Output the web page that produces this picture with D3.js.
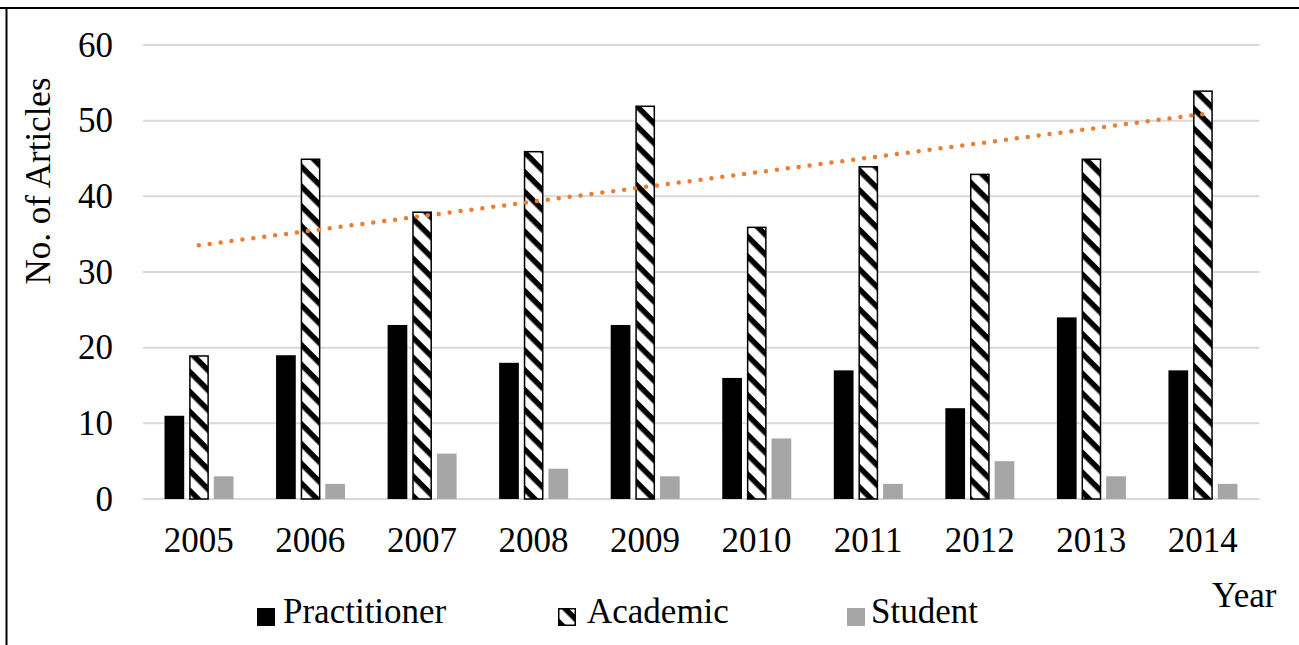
<!DOCTYPE html>
<html>
<head>
<meta charset="utf-8">
<script src="https://cdn.jsdelivr.net/npm/d3@7"></script>
<style>
  html, body { margin: 0; padding: 0; background: #fff; }
  svg { display: block; }
  text { font-family: "Liberation Serif", "Times New Roman", serif; fill: #000; }
</style>
</head>
<body>
<svg id="chart" width="1299" height="645"></svg>
<script>
const years = ["2005","2006","2007","2008","2009","2010","2011","2012","2013","2014"];
const seriesNames = ["Practitioner","Academic","Student"];
const practitioner = [11,19,23,18,23,16,17,12,24,17];
const academic = [19,45,38,46,52,36,44,43,45,54];
const student = [3,2,6,4,3,8,2,5,3,2];
const yTicks = [0,10,20,30,40,50,60];
const yTitle = "No. of Articles";
const xTitle = "Year";

const seriesValues = [practitioner, academic, student];
const svg = d3.select("#chart");
const W = 1299, H = 645;

// frame lines
svg.append("line").attr("x1",0).attr("x2",W).attr("y1",8).attr("y2",8)
  .attr("stroke","#000").attr("stroke-width",2);
svg.append("line").attr("x1",6.5).attr("x2",6.5).attr("y1",8).attr("y2",H)
  .attr("stroke","#000").attr("stroke-width",2);

// pattern
const defs = svg.append("defs");
const pat = defs.append("pattern").attr("id","diag")
  .attr("patternUnits","userSpaceOnUse").attr("width",14).attr("height",14)
  .attr("patternTransform","rotate(45)");
pat.append("rect").attr("width",14).attr("height",14).attr("fill","#fff");
pat.append("rect").attr("width",14).attr("height",5.5).attr("fill","#000");

const x0 = d3.scaleBand().domain(years).range([143, 1258.5]).padding(0);
const x1 = d3.scaleBand().domain(seriesNames).range([21.5, 90.5]).paddingInner(0.2);
const y = d3.scaleLinear().domain([0,60]).range([499,45]);

// gridlines
svg.append("g").selectAll("line").data(yTicks).join("line")
  .attr("x1",143).attr("x2",1259.5)
  .attr("y1",d=>y(d)).attr("y2",d=>y(d))
  .attr("stroke","#d9d9d9").attr("stroke-width",2);

// y axis labels
const yAxis = d3.axisLeft(y).tickValues(yTicks).tickSize(0).tickPadding(0);
const gy = svg.append("g").attr("transform","translate(113,0)").call(yAxis);
gy.select(".domain").remove();
gy.selectAll("text").attr("font-size",35).attr("font-family","Liberation Serif").attr("fill","#000");

// x axis labels
const xAxis = d3.axisBottom(x0).tickSize(0).tickPadding(0);
const gx = svg.append("g").attr("transform","translate(0,499)").call(xAxis);
gx.select(".domain").remove();
gx.selectAll("text").attr("font-size",35).attr("font-family","Liberation Serif")
  .attr("fill","#000").attr("dy",null).attr("y",53);

// bars
const fills = ["#000","url(#diag)","#a6a6a6"];
seriesNames.forEach((s,si) => {
  const g = svg.append("g");
  g.selectAll("rect").data(years.map((yr,i)=>({yr, v: seriesValues[si][i]}))).join("rect")
    .attr("x", d => x0(d.yr) + x1(s) + (si===1 ? 0.75 : 0))
    .attr("width", x1.bandwidth() - (si===1 ? 1.5 : 0))
    .attr("y", d => y(d.v) + (si===1 ? 0.75 : 0))
    .attr("height", d => y(0) - y(d.v) - (si===1 ? 0.75 : 0))
    .attr("fill", fills[si])
    .attr("stroke", si===1 ? "#000" : "none")
    .attr("stroke-width", si===1 ? 1.5 : 0);
});

// linear trendline for Academic
const n = academic.length;
const xs = d3.range(1, n+1);
const mx = d3.mean(xs), my = d3.mean(academic);
const slope = d3.sum(xs.map((xv,i)=>(xv-mx)*(academic[i]-my))) / d3.sum(xs.map(xv=>(xv-mx)*(xv-mx)));
const intercept = my - slope*mx;
const cx = yr => x0(yr) + x0.bandwidth()/2;
svg.append("line")
  .attr("x1", cx(years[0])).attr("y1", y(intercept + slope*1))
  .attr("x2", cx(years[n-1])).attr("y2", y(intercept + slope*n))
  .attr("stroke","#ED7D31").attr("stroke-width",4.5)
  .attr("stroke-linecap","round").attr("stroke-dasharray","0 11");

// axis titles
svg.append("text").attr("transform","translate(50,181) rotate(-90)")
  .attr("text-anchor","middle").attr("font-size",35).text(yTitle);
svg.append("text").attr("x",1212).attr("y",607)
  .attr("font-size",35).text(xTitle);

// legend
const legendPos = [{sx:257, tx:283}, {sx:558, tx:587}, {sx:847, tx:871}];
seriesNames.forEach((s,i) => {
  const p = legendPos[i];
  svg.append("rect").attr("x",p.sx + (i===1?0.75:0)).attr("y",608 + (i===1?0.75:0))
    .attr("width",18 - (i===1?1.5:0)).attr("height",18 - (i===1?1.5:0))
    .attr("fill", fills[i]).attr("stroke", i===1 ? "#000" : "none").attr("stroke-width",1.5);
  svg.append("text").attr("x",p.tx).attr("y",623).attr("font-size",35).text(s);
});
</script>
</body>
</html>
